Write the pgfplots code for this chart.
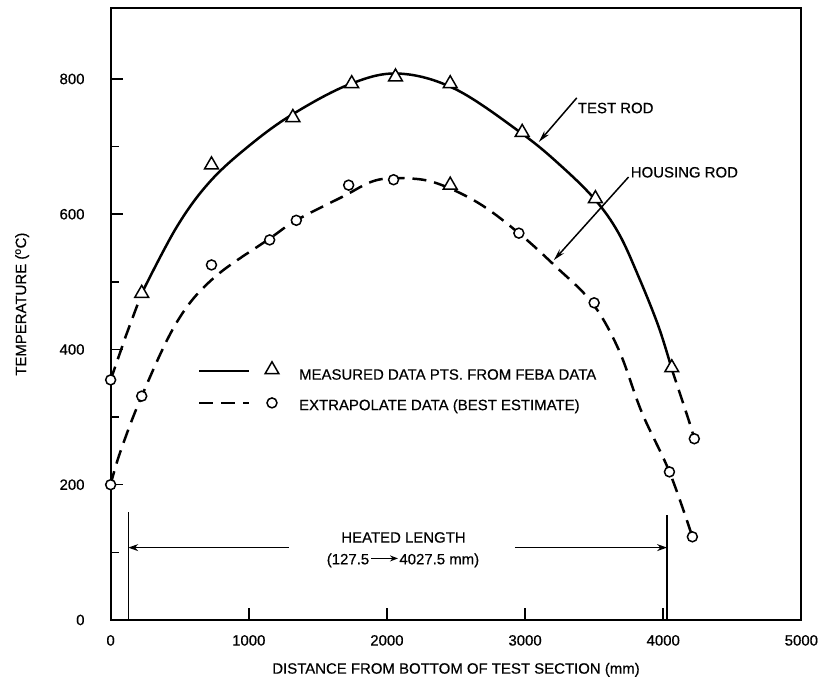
\documentclass[border=0pt]{standalone}
\usepackage{fontspec}
\setmainfont{Liberation Sans}[FakeBold=0.5]
\usepackage{pgfplots}
\pgfplotsset{compat=1.18}
\usetikzlibrary{arrows.meta}
\begin{document}
\begin{tikzpicture}[font=\fontsize{15bp}{18bp}\selectfont]
\begin{axis}[
  width=693bp, height=614bp, scale only axis,
  xmin=0, xmax=5000, ymin=0, ymax=905,
  clip=false,
  axis line style={line width=1.8bp},
  xtick={0,1000,...,5000}, ytick={0,200,...,800},
  minor ytick={100,300,500,700},
  tick align=inside, xtick pos=left, ytick pos=left,
  major tick length=12bp, minor tick length=8bp,
  every tick/.style={line width=1.5bp, black},
  scaled ticks=false,
  /pgf/number format/assume math mode=true,
  /pgf/number format/1000 sep={},
  xticklabel style={inner sep=0pt, anchor=north, yshift=-15bp},
  yticklabel style={inner sep=0pt, anchor=east, xshift=-26bp},
  xlabel={DISTANCE FROM BOTTOM OF TEST SECTION (mm)},
  ylabel={TEMPERATURE (\textsuperscript{o}C)},
  xlabel style={at={(axis description cs:0.5,-0.0814)}, anchor=center, inner sep=0pt},
  ylabel style={at={(axis description cs:-0.128,0.516)}, anchor=center, rotate=0, inner sep=0pt},
]
% test rod fitted curve
\addplot[line width=2.5bp, smooth, tension=0.6] coordinates {
(225,483)(478,581)(718,648)(1007,702)(1319,748)(1728,792)(2084,808)(2495,785)(2979,719)(3268,670)(3509,621)(3677,572)(3821,508)(3966,434)(4062,371)};
\addplot[line width=2.5bp, dash pattern=on 14bp off 8bp] coordinates {(0,355)(110,420)(225,483)};
\addplot[line width=2.5bp, dash pattern=on 14bp off 8bp, smooth] coordinates {(4062,371)(4182,297)(4225,268)};
% housing rod fitted curve
\addplot[line width=2.5bp, dash pattern=on 14bp off 8bp, smooth, tension=0.6] coordinates {
(0,200)(69,248)(225,331)(478,440)(742,505)(1151,564)(1344,591)(1680,626)(1918,650)(2156,653)(2372,645)(2667,616)(2955,572)(3220,523)(3485,469)(3677,400)(3845,307)(4045,219)(4211,123)};
% measured points (triangles)
\addplot[only marks, mark=triangle*, mark size=8bp, mark options={fill=white, draw=black, line width=1.5bp}] coordinates {
(225,483)(730,673)(1319,743)(1745,793)(2062,803)(2458,793)(2979,721)(3509,623)(4062,373)(2458,643)};
% extrapolated points (circles)
\addplot[only marks, mark=*, mark size=5bp, mark options={fill=white, draw=black, line width=1.5bp}] coordinates {
(0,355)(0,200)(225,331)(730,525)(1151,562)(1344,591)(1723,643)(2048,651)(2955,572)(3500,469)(4045,219)(4211,123)(4225,268)};
% legend
\addplot[line width=2.5bp] coordinates {(642,368)(1002,368)};
\addplot[line width=2.5bp, dash pattern=on 14bp off 8bp] coordinates {(642,321)(1002,321)};
\addplot[only marks, mark=triangle*, mark size=8bp, mark options={fill=white, draw=black, line width=1.5bp}] coordinates {(1168,370)};
\addplot[only marks, mark=*, mark size=5bp, mark options={fill=white, draw=black, line width=1.5bp}] coordinates {(1168,321)};
\node[anchor=west, inner sep=0pt] at (axis cs:1363,363) {MEASURED DATA PTS. FROM FEBA DATA};
\node[anchor=west, inner sep=0pt] at (axis cs:1363,316) {EXTRAPOLATE DATA (BEST ESTIMATE)};
% annotations
\node[anchor=west, inner sep=0pt] at (axis cs:3381,757) {TEST ROD};
\draw[line width=1.5bp, -{Stealth[length=12bp, width=6bp]}] (axis cs:3374,772) -- (axis cs:3100,707);
\node[anchor=west, inner sep=0pt] at (axis cs:3764,662) {HOUSING ROD};
\draw[line width=1.5bp, -{Stealth[length=12bp, width=6bp]}] (axis cs:3749,655) -- (axis cs:3208,532);
% heated length
\draw[line width=1.5bp] (axis cs:127.5,0) -- (axis cs:127.5,160);
\draw[line width=1.5bp] (axis cs:4027.5,0) -- (axis cs:4027.5,155);
\draw[line width=1.5bp, -{Stealth[length=10bp, width=7bp]}] (axis cs:1290,107) -- (axis cs:127.5,107);
\draw[line width=1.5bp, -{Stealth[length=10bp, width=7bp]}] (axis cs:2927,107) -- (axis cs:4027.5,107);
\node[inner sep=0pt] at (axis cs:2120,122) {HEATED LENGTH};
\node[anchor=east, inner sep=0pt] at (axis cs:1873,88) {(127.5};
\draw[line width=1.5bp, -{Stealth[length=8bp, width=6bp]}] (axis cs:1885,91) -- (axis cs:2080,91);
\node[anchor=west, inner sep=0pt] at (axis cs:2089,88) {4027.5 mm)};
\end{axis}
\path (-111bp,-68bp) rectangle (707bp,622bp);
\end{tikzpicture}
\end{document}
